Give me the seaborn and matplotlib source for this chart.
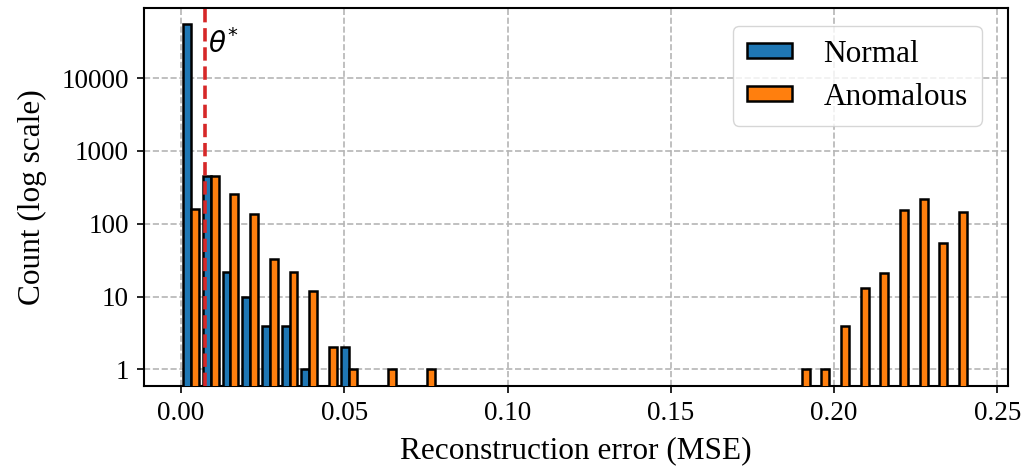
import numpy as np
import pandas as pd
import matplotlib
matplotlib.use("Agg")
import matplotlib.pyplot as plt
from matplotlib.patches import Patch
from matplotlib.ticker import FixedLocator, NullLocator
import seaborn as sns

# ---- data ----
bin_edges = np.linspace(0.0001, 0.2413, 41)          # 40 equal bins
normal_bins = [0, 1, 2, 3, 4, 5, 6, 8]
normal_counts = [55300, 450, 22, 10, 4, 4, 1, 2]
anom_bins = [0, 1, 2, 3, 4, 5, 6, 7, 8, 10, 12,
             31, 32, 33, 34, 35, 36, 37, 38, 39]
anom_counts = [158, 460, 253, 135, 33, 22, 12, 2, 1, 1, 1,
               1, 1, 4, 13, 21, 154, 216, 55, 146]
threshold = 0.0073
groups = ["Normal", "Anomalous"]
colors = ["#1f77b4", "#ff7f0e"]
y_ticks = [1, 10, 100, 1000, 10000]
y_tick_labels = ["1", "10", "100", "1000", "10000"]
x_ticks = [0.00, 0.05, 0.10, 0.15, 0.20, 0.25]

centers = (bin_edges[:-1] + bin_edges[1:]) / 2
df = pd.concat([
    pd.DataFrame({"err": centers[normal_bins], "count": normal_counts, "group": groups[0]}),
    pd.DataFrame({"err": centers[anom_bins], "count": anom_counts, "group": groups[1]}),
], ignore_index=True)

plt.rcParams["font.family"] = ["Liberation Serif", "DejaVu Serif"]
plt.rcParams["mathtext.fontset"] = "dejavusans"

fig = plt.figure(figsize=(10.25, 4.72), dpi=100)
ax = fig.add_axes([0.1405, 0.182, 0.983 - 0.1405, 0.983 - 0.182])
ax.set_yscale("log")

sns.barplot(data=df, x="err", y="count", hue="group", hue_order=groups,
            palette=colors, native_scale=True, width=0.8, dodge=True,
            errorbar=None, saturation=1, edgecolor="black", linewidth=1.8,
            legend=False, ax=ax, zorder=3)

ax.axvline(threshold, color="#d62728", ls="--", lw=2.6, zorder=4)
ax.text(threshold + 0.0011, 0.905, r"$\theta^{*}$", fontsize=20,
        transform=ax.get_xaxis_transform(), va="center", ha="left")

ax.set_xlim(-0.0113, 0.2531)
ax.set_ylim(0.59, 91800)
ax.xaxis.set_major_locator(FixedLocator(x_ticks))
ax.set_xticklabels([f"{t:.2f}" for t in x_ticks])
ax.yaxis.set_major_locator(FixedLocator(y_ticks))
ax.yaxis.set_minor_locator(NullLocator())
ax.set_yticklabels(y_tick_labels)
ax.tick_params(labelsize=19.5, length=5, width=1.2, pad=6)

ax.grid(True, which="major", ls="--", color="#b5b5b5", lw=1.2, zorder=0)
ax.set_axisbelow(True)
for s in ax.spines.values():
    s.set_linewidth(1.5)
    s.set_color("black")

ax.set_xlabel("Reconstruction error (MSE)", fontsize=22.5, labelpad=7)
ax.set_ylabel("Count (log scale)", fontsize=22.5, labelpad=10)

handles = [Patch(facecolor=c, edgecolor="black", linewidth=1.8, label=g)
           for c, g in zip(colors, groups)]
ax.legend(handles=handles, loc="upper right", fontsize=22.5, framealpha=0.8,
          handleheight=0.35, handlelength=1.45, borderpad=0.45, labelspacing=0.45,
          handletextpad=1.0, bbox_to_anchor=(0.988, 0.995))

fig.savefig("out.png", dpi=100)
